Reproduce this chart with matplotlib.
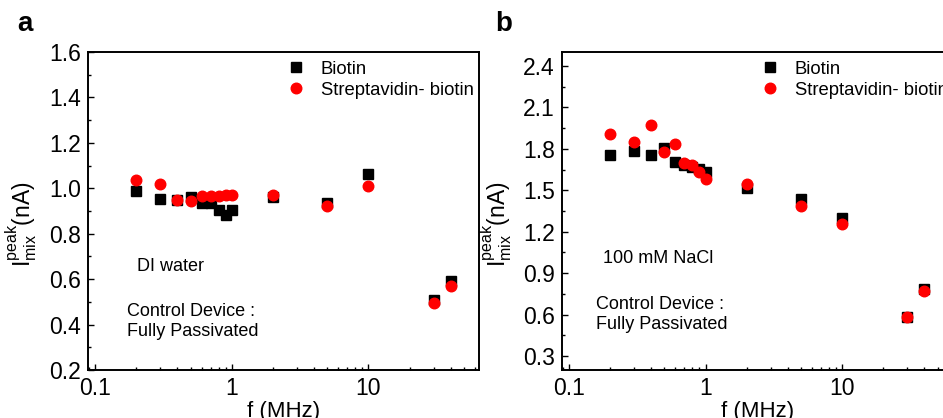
import numpy as np
import matplotlib
matplotlib.use('Agg')
import matplotlib.pyplot as plt
from matplotlib.ticker import AutoMinorLocator, FixedLocator, LogLocator, NullFormatter

plt.rcParams['font.family'] = 'Liberation Sans'
plt.rcParams['mathtext.fontset'] = 'custom'
plt.rcParams['mathtext.rm'] = 'Liberation Sans'

freq = [0.2, 0.3, 0.4, 0.5, 0.6, 0.7, 0.8, 0.9, 1, 2, 5, 10, 30, 40]

# panel a: DI water
biotin_a = [0.987, 0.952, 0.948, 0.962, 0.936, 0.937, 0.904, 0.882, 0.906, 0.962, 0.937, 1.065, 0.508, 0.591]
strep_a = [1.036, 1.021, 0.948, 0.943, 0.967, 0.967, 0.967, 0.970, 0.972, 0.972, 0.921, 1.011, 0.496, 0.569]

# panel b: 100 mM NaCl
biotin_b = [1.753, 1.785, 1.756, 1.809, 1.705, 1.683, 1.671, 1.652, 1.634, 1.519, 1.434, 1.302, 0.583, 0.783]
strep_b = [1.910, 1.852, 1.973, 1.780, 1.833, 1.700, 1.684, 1.632, 1.579, 1.543, 1.386, 1.254, 0.583, 0.770]

panels = [
    ('a', biotin_a, strep_a, (0.2, 1.6), np.arange(0.2, 1.61, 0.2), 'DI water', (0.125, 0.327), (0.0997, 0.152), -0.125),
    ('b', biotin_b, strep_b, (0.2, 2.5), np.arange(0.3, 2.41, 0.3), '100 mM NaCl', (0.106, 0.352), (0.087, 0.174), -0.122),
]

fig = plt.figure(figsize=(9.43, 4.18), dpi=100)
lefts = [88 / 943, 561.7 / 943]

for i, (tag, yb, ys, ylim, yt, cond, cpos, dpos, labx) in enumerate(panels):
    ax = fig.add_axes([lefts[i], 48 / 418, 391 / 943, 318 / 418])
    ax.plot(freq, yb, 's', color='black', markersize=6.5, label='Biotin')
    ax.plot(freq, ys, 'o', color='red', markersize=7.6, label='Streptavidin- biotin')
    ax.set_xscale('log')
    ax.set_xlim(0.0885, 64.5)
    ax.set_ylim(*ylim)
    ax.xaxis.set_major_locator(FixedLocator([0.1, 1, 10]))
    ax.set_xticklabels(['0.1', '1', '10'])
    ax.xaxis.set_minor_locator(LogLocator(base=10, subs=np.arange(2, 10)))
    ax.xaxis.set_minor_formatter(NullFormatter())
    ax.set_yticks(yt)
    ax.set_yticklabels(['%.1f' % v for v in yt])
    ax.yaxis.set_minor_locator(AutoMinorLocator(2))
    ax.tick_params(which='both', direction='in', top=False, right=False, labelsize=16.5, width=1)
    ax.tick_params(which='major', length=4)
    ax.tick_params(which='minor', length=2.5)
    ax.tick_params(axis='x', pad=5)
    ax.tick_params(axis='y', pad=5)
    for sp in ax.spines.values():
        sp.set_linewidth(1.4)
    ax.set_xlabel('f (MHz)', fontsize=16, labelpad=1)
    ax.set_ylabel(r'$\mathregular{I_{mix}^{peak}}$(nA)', fontsize=16.5)
    ax.yaxis.set_label_coords(labx, 0.46)
    ax.legend(loc='upper left', bbox_to_anchor=(0.508, 0.972), frameon=False, fontsize=13.3,
              handlelength=1, handletextpad=0.85, labelspacing=0.2, borderpad=0, borderaxespad=0)
    ax.text(cpos[0], cpos[1], cond, transform=ax.transAxes, fontsize=13, va='center', ha='left')
    ax.text(dpos[0], dpos[1], 'Control Device :\nFully Passivated', transform=ax.transAxes,
            fontsize=13, va='center', ha='left', linespacing=1.25)
    fig.text([25 / 943, 504 / 943][i], 1 - 24 / 418, tag, fontsize=20, fontweight='bold', ha='center', va='center')

fig.savefig('out.png', dpi=100)
